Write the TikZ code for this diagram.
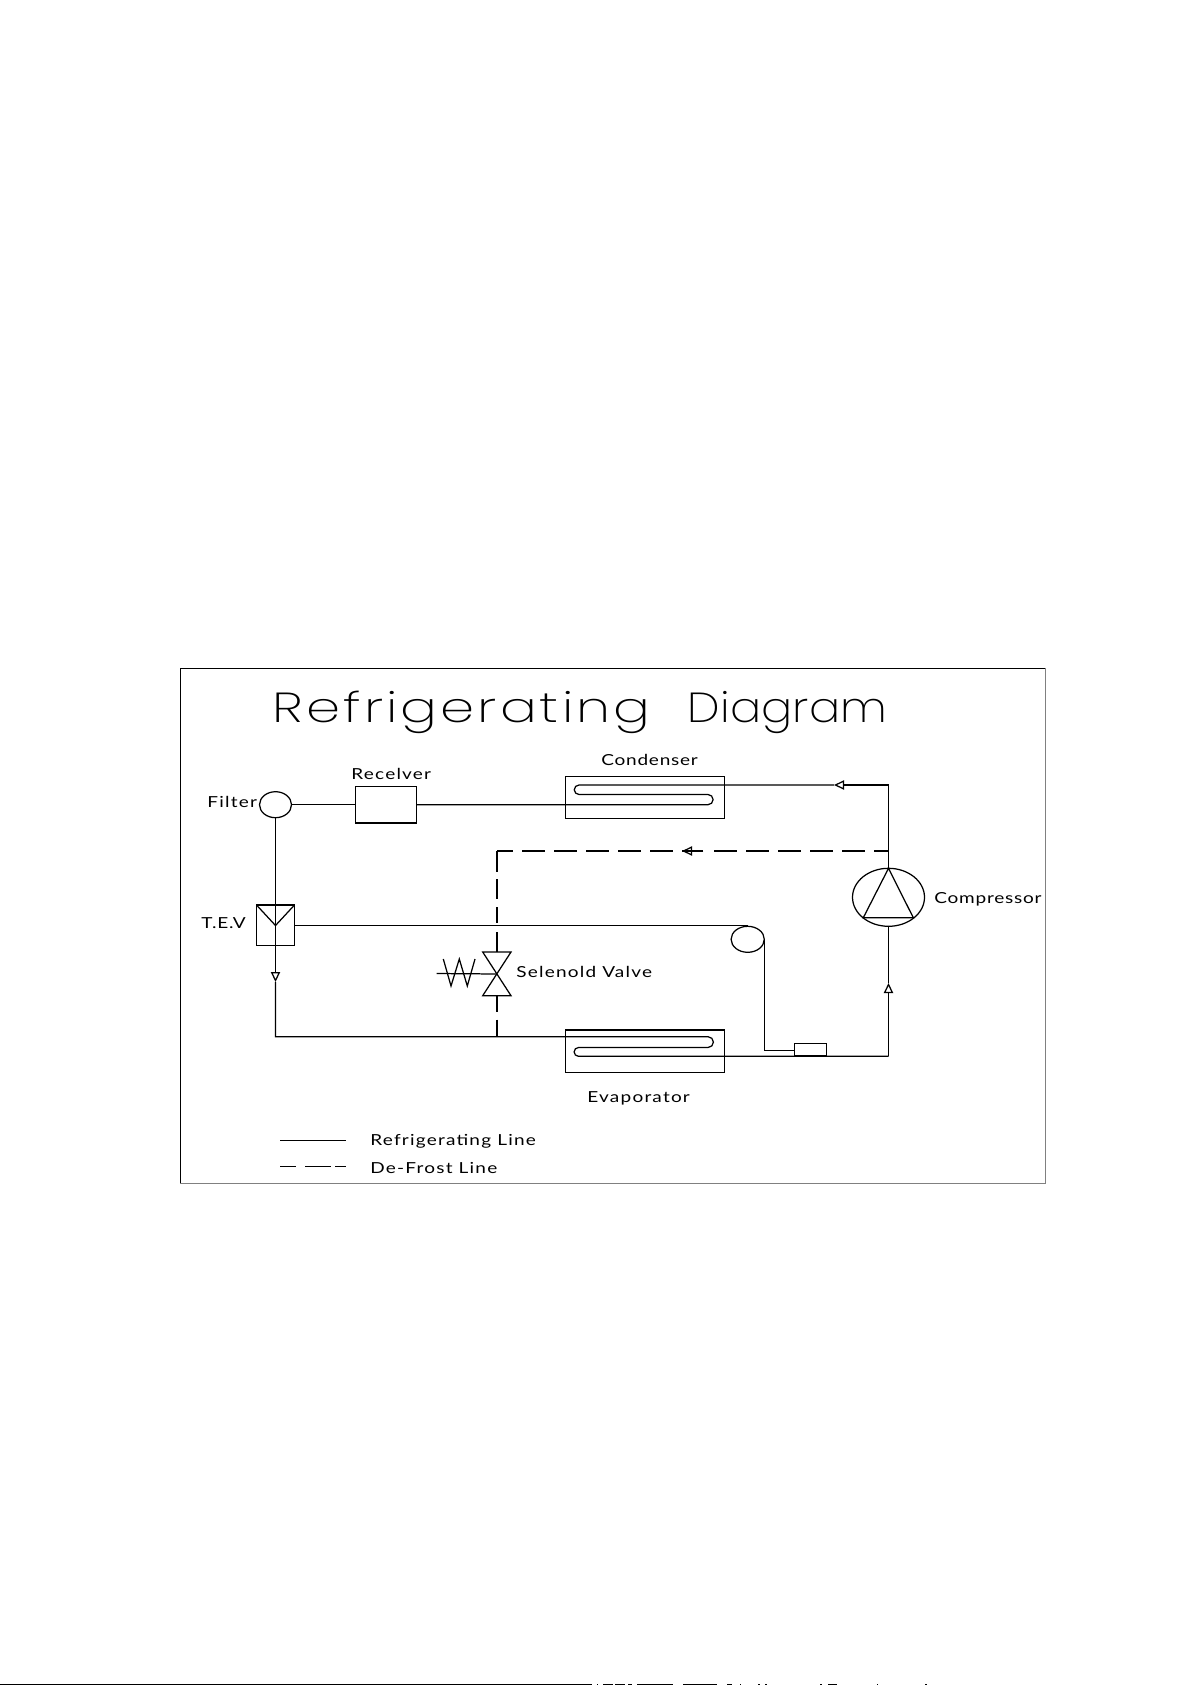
\documentclass[tikz,border=0pt]{standalone}
\usepackage{fontspec}
\usepackage{tikz}
\usetikzlibrary{positioning,arrows.meta,shapes}
\newfontfamily\cadfont[FakeStretch=1.25,LetterSpace=8]{Lato}
\newfontfamily\cadtight[FakeStretch=1.25,LetterSpace=5]{Lato}
\newfontfamily\headfont[FakeStretch=1.3,LetterSpace=7.4]{Poppins ExtraLight}
\newfontfamily\headfontb[FakeStretch=1.1,LetterSpace=0.5]{Poppins ExtraLight}
\tikzset{
    pipe/.style={line width=0.62pt},
    defrost/.style={line width=0.62pt, dash pattern=on 11.5pt off 4.5pt},
    unit/.style={draw, line width=0.62pt, rectangle, inner sep=0pt, outer sep=0pt},
    bulb/.style={draw, line width=0.62pt, ellipse, inner sep=0pt, outer sep=0pt},
    tag/.style={inner sep=0pt, font=\cadfont\fontsize{7.6}{8}\selectfont, anchor=base west},
    tagtight/.style={tag, font=\cadtight\fontsize{7.6}{8}\selectfont},
    flowtip/.style={-{Triangle[open, fill=white, length=5pt, width=4.6pt]}}
}
\begin{document}
\begin{tikzpicture}[x=0.5pt, y=-0.5pt]
    \useasboundingbox (0,0) rectangle (1191,1685);
    % outer frame
    \draw[line width=0.45pt] (180,1183) -- (180,668) -- (1045,668);
    \draw[line width=0.45pt, gray] (1045,668) -- (1045,1183) -- (180,1183);

    \node[inner sep=0pt, anchor=base west, font=\fontsize{21}{23}\selectfont] (title) at (272,722) {\headfont Refrigerating\hspace{18.5pt}{\headfontb Diagram}};

    % main units
    \node[bulb, minimum width=16pt, minimum height=13pt] (filter) at (275.5,804.7) {};
    \node[unit, minimum width=30.7pt, minimum height=18.2pt] (receiver) at (386,804.7) {};
    \node[unit, minimum width=79.7pt, minimum height=21pt] (condenser) at (645,797.7) {};
    \node[unit, minimum width=79.7pt, minimum height=21.2pt] (evaporator) at (645,1051.2) {};
    \node[unit, minimum width=19pt, minimum height=20.2pt] (tev) at (275.5,925.2) {};
    \node[bulb, minimum width=16.6pt, minimum height=13pt] (coilbulb) at (747.7,939.3) {};
    \node[unit, minimum width=16pt, minimum height=6.4pt] (trap) at (810.5,1049.7) {};
    \node[bulb, minimum width=36pt, minimum height=29pt] (compressor) at (888.5,897.3) {};

    % labels
    \node[tag] (filterlabel) at (207,807) {Filter};
    \node[tag] (receiverlabel) at (351,779) {Recelver};
    \node[tagtight] (condenserlabel) at (601,765) {Condenser};
    \node[tagtight] (tevlabel) at (201,928) {T.E.V};
    \node[tag] (valvelabel) at (516,977) {Selenold Valve};
    \node[tagtight] (compressorlabel) at (934,903) {Compressor};
    \node[tag] (evaporatorlabel) at (587,1102) {Evaporator};
    \node[tag] (solidlabel) at (370,1145.5) {Refrigerating Line};
    \node[tag] (dashlabel) at (370,1173) {De-Frost Line};

    % compressor triangle
    \coordinate (apex) at (888.5,868.3);
    \coordinate (baseleft) at (863.3,917.7);
    \coordinate (baseright) at (913.3,917.7);
    \draw[pipe] (apex) -- (baseleft) -- (baseright) -- cycle;

    % T.E.V. insert
    \draw[pipe] (tev.north west) -- (275.5,925.5) -- (tev.north east);

    % condenser coil and its line
    \coordinate (hotturn) at (888.5,785);
    \coordinate (hottip) at (834,785);
    \coordinate (condtop) at (579,785);
    \coordinate (condend) at (708,794.5);
    \draw[pipe, flowtip] (hotturn) -- (hottip);
    \draw[pipe] (hottip) -- (condtop) arc[start angle=270, end angle=90, radius=4.75] -- (condend) arc[start angle=-90, end angle=90, radius=5.1] -- (receiver.east);
    \draw[pipe] (apex) -- (hotturn);
    \draw[pipe] (filter.east) -- (receiver.west);

    % filter to T.E.V. and on to the evaporator
    \coordinate (tevtip) at (275.5,982);
    \coordinate (lowcorner) at (275.5,1036.7);
    \coordinate (evaptop) at (708,1036.7);
    \coordinate (evapmid) at (578.5,1047.5);
    \coordinate (hotstart) at (888.5,1056.3);
    \draw[pipe] (filter.south) -- (tev.north);
    \draw[pipe, flowtip] (tev.north) -- (tevtip);
    \draw[pipe] (tevtip) -- (lowcorner) -- (evaptop) arc[start angle=-90, end angle=90, radius=5.4] -- (evapmid) arc[start angle=270, end angle=90, radius=4.4] -- (hotstart);

    % suction line
    \coordinate (suctip) at (888.5,983);
    \draw[pipe, flowtip] (hotstart) -- (suctip);
    \draw[pipe] (suctip) -- (compressor.south);
    \coordinate (bulbtop) at (747.7,925.7);
    \draw[pipe] (tev.east |- bulbtop) -- (bulbtop);
    \coordinate (bulbright) at (764.3,939.3);
    \coordinate (trapcorner) at (764.3,1050.3);
    \draw[pipe] (bulbright) -- (trapcorner) -- (trap.west |- trapcorner);

    % solenoid valve
    \coordinate (valvemid) at (497,974);
    \coordinate (valvetop) at (497,952);
    \coordinate (valvelow) at (497,995.7);
    \draw[pipe] (482.7,952) -- (511,952) -- (482.7,995.7) -- (511,995.7) -- cycle;
    \coordinate (wireend) at (436.7,973.5);
    \draw[pipe] (wireend) -- (valvemid);
    \draw[pipe] (443.3,959) -- (451,986) -- (459.3,959) -- (467.3,986) -- (475,959);

    % de-frost line
    \coordinate (branch) at (888.5,851);
    \coordinate (defrostcorner) at (497,851);
    \coordinate (defrostjoin) at (497,1036.7);
    \coordinate (stub) at (703,851);
    \coordinate (stubtip) at (682,851);
    \draw[defrost, dash phase=4pt] (branch) -- (713,851);
    \draw[pipe, flowtip] (stub) -- (stubtip);
    \draw[pipe] (stub) -- (stubtip);
    \draw[defrost] (672.7,851) -- (defrostcorner);
    \draw[pipe, dash pattern=on 10.5pt off 3.5pt on 10pt off 4pt on 8pt off 4.5pt on 10pt off 1pt] (defrostcorner) -- (valvetop);
    \draw[pipe, dash pattern=on 8pt off 4pt] (valvelow) -- (defrostjoin);

    % legend
    \coordinate (solidstart) at (280,1140.7);
    \coordinate (solidend) at (346,1140.7);
    \coordinate (dashstart) at (280,1166.7);
    \coordinate (dashend) at (346,1166.7);
    \draw[pipe] (solidstart) -- (solidend);
    \draw[pipe, dash pattern=on 8pt off 4.5pt on 13pt off 2pt] (dashstart) -- (dashend);

    % strip at the page foot
    \fill (0,1683.8) rectangle (592,1685);
    \foreach \from/\to in {597/598,603/613,615/625,628/632,637/673,683/717,727/732,740/741,758/760,765/767,820/822,828/837,877/878,925/927}
        \fill (\from,1683.8) rectangle (\to,1685);
\end{tikzpicture}
\end{document}
